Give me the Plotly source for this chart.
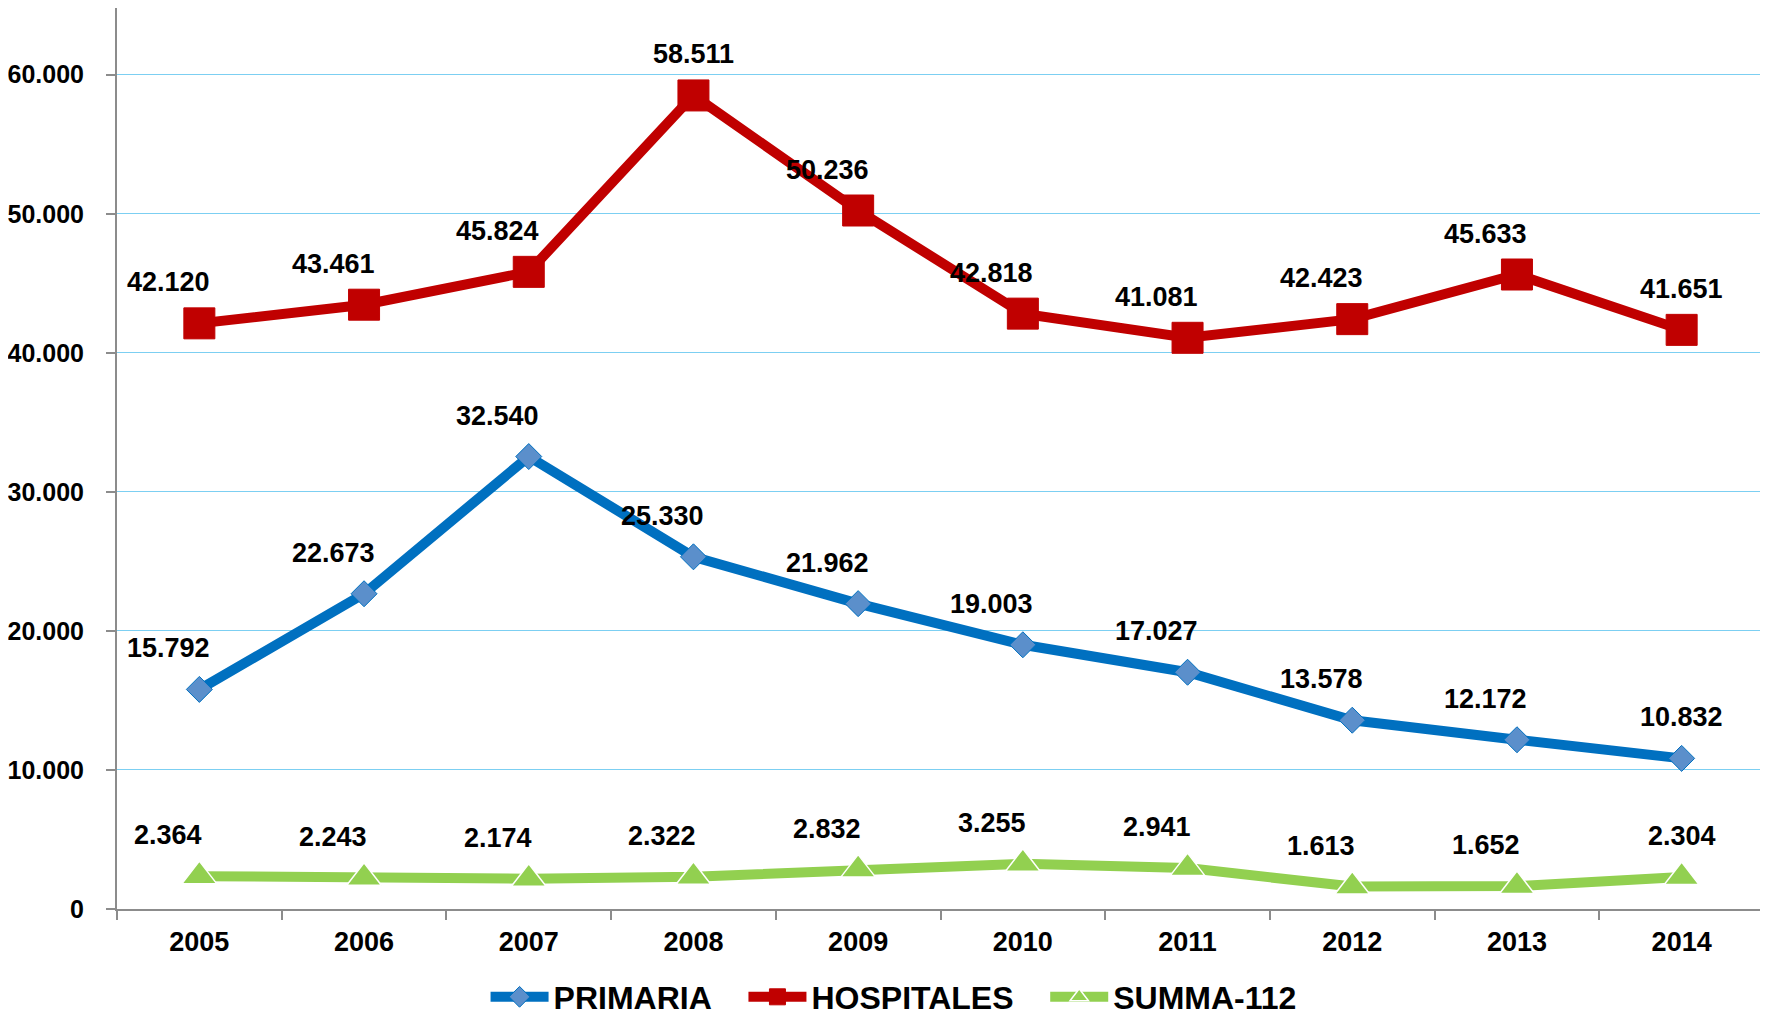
import plotly.graph_objects as go

years = ["2005", "2006", "2007", "2008", "2009", "2010", "2011", "2012", "2013", "2014"]
primaria = [15792, 22673, 32540, 25330, 21962, 19003, 17027, 13578, 12172, 10832]
hospitales = [42120, 43461, 45824, 58511, 50236, 42818, 41081, 42423, 45633, 41651]
summa = [2364, 2243, 2174, 2322, 2832, 3255, 2941, 1613, 1652, 2304]
y_ticks = [0, 10000, 20000, 30000, 40000, 50000, 60000]


def fmt(v):
    return f"{v:,}".replace(",", ".")


# trailing no-break spaces give the wider gap between legend entries
series = [
    dict(name="PRIMARIA", pad=3, y=primaria, color="#0070C0", symbol="diamond",
         size=20, fill="#5B8FCB", lw=10),
    dict(name="HOSPITALES", pad=3, y=hospitales, color="#C00000", symbol="square",
         size=31, fill="#C00000", lw=10),
    dict(name="SUMMA-112", pad=0, y=summa, color="#92D050", symbol="triangle-up",
         size=30, fill="#92D050", lw=10),
]

fig = go.Figure()
annotations = []
for s in series:
    tri = s["symbol"] == "triangle-up"
    fig.add_trace(go.Scatter(
        x=years, y=s["y"], name=s["name"] + "\u00a0" * s["pad"], mode="lines+markers",
        line=dict(color=s["color"], width=s["lw"]),
        marker=dict(symbol=s["symbol"], size=s["size"], color=s["fill"],
                    line=dict(color="white" if tri else s["color"],
                              width=1.5 if tri else 1)),
    ))
    for i, (yr, v) in enumerate(zip(years, s["y"])):
        # labels sit up and to the left of the point, except the peak and the last year
        centred = i == len(years) - 1 or (s["name"] == "HOSPITALES" and yr == "2008")
        annotations.append(dict(
            x=i, y=v, text=fmt(v), showarrow=False,
            xshift=0 if centred else -31, yshift=41,
            font=dict(family="Liberation Sans, Arial", size=27, color="black", weight="bold"),
        ))

# the page body adds an 8px margin, so the figure is 8px smaller than the window
fig.update_layout(
    width=1760, height=1009,
    margin=dict(l=109, r=4, t=0, b=108, autoexpand=False),
    paper_bgcolor="white", plot_bgcolor="white",
    font=dict(family="Liberation Sans, Arial", size=25, color="black", weight="bold"),
    annotations=annotations,
    showlegend=True,
    legend=dict(orientation="h", x=0.4715, xanchor="center", y=-0.0977, yanchor="middle",
                font=dict(size=32, weight="bold"), itemwidth=58, traceorder="normal"),
    xaxis=dict(type="category", categoryorder="array", categoryarray=years,
               range=[-0.5, len(years) - 0.5],
               showline=True, linecolor="#8c8c8c", linewidth=2,
               ticks="outside", tickson="boundaries", ticklen=9, tickcolor="#8c8c8c",
               tickwidth=2, showgrid=False, tickfont=dict(size=27), tickangle=0,
               ticklabelstandoff=8),
    yaxis=dict(range=[0, 64800], tickvals=y_ticks,
               ticktext=[fmt(v) for v in y_ticks],
               showline=True, linecolor="#8c8c8c", linewidth=2,
               ticks="outside", ticklen=9, tickcolor="#8c8c8c", tickwidth=2,
               showgrid=True, gridcolor="#7ccff2", gridwidth=1, zeroline=False,
               tickfont=dict(size=25), ticklabelstandoff=17),
)

fig.write_html("out.html")
